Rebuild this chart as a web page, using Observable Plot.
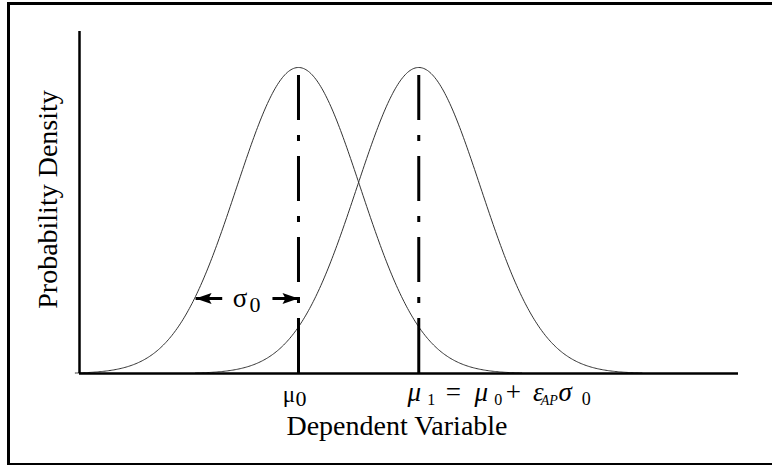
<!DOCTYPE html>
<html><head><meta charset="utf-8">
<script src="https://cdn.jsdelivr.net/npm/d3@7"></script>
<script src="https://cdn.jsdelivr.net/npm/@observablehq/plot@0.6"></script>
<style>
html,body{margin:0;padding:0;background:#fff;overflow:hidden;width:772px;height:465px;}
#chart{position:absolute;left:0;top:0;}
#frame{position:absolute;left:7px;top:2px;width:820px;height:464px;box-sizing:border-box;border:3px solid #000;pointer-events:none;}
</style></head><body>
<div id="chart"></div><div id="frame"></div>
<script>
// ---- data (in units of sigma0, density normalised to peak = 1) ----
const seriesNames = ["mu0", "mu1"];
const means = [0, 1.94];          // μ0 and μ1 = μ0 + ε_AP σ0
const sigma0 = 1;
const tailSpan = 3.6;             // curves drawn over ±3.6 σ
const dashTop = 0.974;            // top of the dash-dot centre lines
const solidTop = 0.167;           // where the centre lines become solid
const arrowLevel = 0.245;         // height of the σ0 arrows
const arrowTips = [-1.66, 0];     // left tip on the curve, right tip on μ0
const shaftEnds = [-1.23, -0.42];
const axisTitleX = "Dependent Variable";
const axisTitleY = "Probability Density";

// normal density curves (shape defined by mean and sigma0)
const curves = [];
means.forEach((m, i) => {
  for (let x = m - tailSpan; x <= m + tailSpan + 1e-9; x += 0.02) {
    curves.push({series: seriesNames[i], x, y: Math.exp(-((x - m) ** 2) / (2 * sigma0 * sigma0))});
  }
});

const serif = "'Liberation Serif', 'Times New Roman', serif";
const xDomain = [-3.532, 7.097];
const yDomain = [0, 1.1176];

const headLeft = {draw(ctx) { ctx.moveTo(0, 0); ctx.lineTo(16, -5.5); ctx.lineTo(13, 0); ctx.lineTo(16, 5.5); ctx.closePath(); }};
const headRight = {draw(ctx) { ctx.moveTo(0, 0); ctx.lineTo(-16, -5.5); ctx.lineTo(-13, 0); ctx.lineTo(-16, 5.5); ctx.closePath(); }};

const plot = Plot.plot({
  width: 772, height: 465,
  marginLeft: 79, marginRight: 34, marginTop: 31, marginBottom: 92,
  x: {domain: xDomain, axis: null},
  y: {domain: yDomain, axis: null},
  style: {background: "transparent", fontFamily: serif},
  marks: [
    Plot.line(curves, {x: "x", y: "y", z: "series", stroke: "#333", strokeWidth: 1}),
    Plot.ruleX(means, {y1: dashTop, y2: solidTop, stroke: "#000", strokeWidth: 3, strokeDasharray: "45,15,6,15"}),
    Plot.ruleX(means, {y1: solidTop, y2: 0, stroke: "#000", strokeWidth: 3}),
    Plot.ruleY([0], {stroke: "#000", strokeWidth: 2.7}),
    Plot.ruleX([xDomain[0]], {stroke: "#000", strokeWidth: 2.5}),
    Plot.link([0, 1], {x1: i => arrowTips[i], x2: i => shaftEnds[i], y1: () => arrowLevel, y2: () => arrowLevel, stroke: "#000", strokeWidth: 3}),
    Plot.dot([arrowTips[0]], {x: d => d, y: () => arrowLevel, symbol: headLeft, fill: "#000", stroke: "none", r: 5}),
    Plot.dot([arrowTips[1]], {x: d => d, y: () => arrowLevel, symbol: headRight, fill: "#000", stroke: "none", r: 5}),
    Plot.text([axisTitleX], {text: d => d, frameAnchor: "bottom", dx: -12, dy: 61, fontSize: 28, fill: "#000", fontFamily: serif}),
    Plot.text([axisTitleY], {text: d => d, frameAnchor: "left", textAnchor: "middle", rotate: -90, dx: -31, dy: -3, fontSize: 28, fill: "#000", fontFamily: serif})
  ]
});
document.getElementById("chart").appendChild(plot);

// rich-text labels (subscripts), positioned with the plot's scales
const sx = plot.scale("x"), sy = plot.scale("y");
const svg = d3.select(plot);
function label(x0, y0, parts) {
  const g = svg.append("g").attr("font-family", serif).attr("fill", "#000");
  parts.forEach(p => {
    g.append("text")
      .attr("x", x0 + p.dx).attr("y", y0 + (p.dy || 0))
      .attr("font-size", p.size).attr("font-style", p.it ? "italic" : "normal")
      .text(p.t);
  });
}
const baseY = sy.apply(0);
label(sx.apply(means[0]), baseY + 29, [
  {t: "μ", dx: -9, size: 23},
  {t: "0", dx: 3, size: 22, dy: 4}
]);
label(sx.apply(means[1]), baseY + 28, [
  {t: "μ", dx: -4, size: 27, it: true},
  {t: "1", dx: 13, size: 16, dy: 4},
  {t: "=", dx: 35, size: 27},
  {t: "μ", dx: 63, size: 27, it: true},
  {t: "0", dx: 80, size: 16, dy: 4},
  {t: "+", dx: 95, size: 27},
  {t: "ε", dx: 120, size: 27, it: true},
  {t: "AP", dx: 131, size: 14, it: true, dy: 4},
  {t: "σ", dx: 147, size: 27, it: true},
  {t: "0", dx: 168, size: 18, dy: 4}
]);
label(sx.apply(means[0] - sigma0), sy.apply(arrowLevel) + 9, [
  {t: "σ", dx: 4, size: 27},
  {t: "0", dx: 19, size: 22, dy: 5}
]);
</script>
</body></html>
